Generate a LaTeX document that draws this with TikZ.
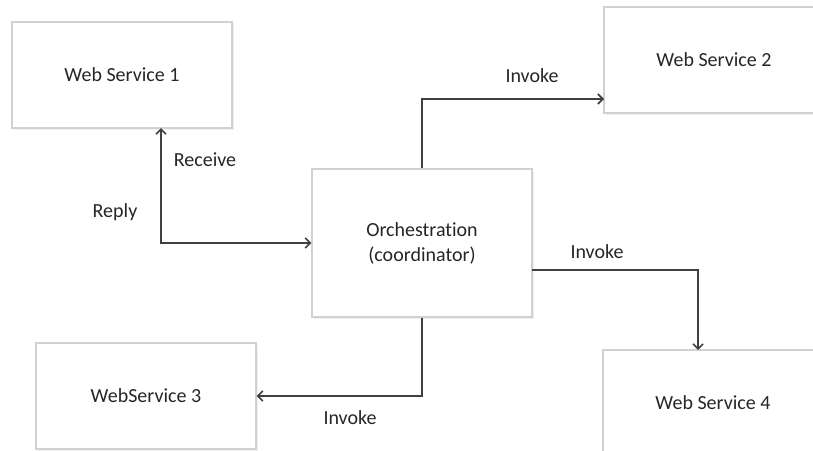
\documentclass[tikz,border=0pt]{standalone}
\usepackage{fontspec}
\setmainfont[Ligatures={NoCommon}]{Carlito}
\usetikzlibrary{arrows.meta, positioning, shadows}

\begin{document}
\begin{tikzpicture}[x=1pt, y=-1pt,
  service/.style={rectangle, draw=black!18, line width=1.4pt, fill=white,
                  minimum width=220pt, minimum height=106pt, text=black!85,
                  drop shadow={opacity=0.12, shadow xshift=1.5pt, shadow yshift=-1.5pt}},
  link/.style={line width=1.6pt, black!75, -{Straight Barb[length=5pt, width=10pt]}},
  lbl/.style={text=black!85}
]
  \useasboundingbox (0,0) rectangle (813,450);
  \fontsize{20}{25}\selectfont

  % services
  \node[service] (ws1) at (122, 75)  {Web Service 1};
  \node[service] (ws2) at (714, 60)  {Web Service 2};
  \node[service] (ws3) at (146, 396) {WebService 3};
  \node[service] (ws4) at (713, 403) {Web Service 4};

  % coordinator
  \node[service, minimum height=148pt, align=center] (orch) at (422, 243)
       {Orchestration\\(coordinator)};

  % bend points on the box sides
  \coordinate (ws1in) at (161, 128);
  \coordinate (ws2in) at (604, 99);
  \coordinate (orchout) at (532, 270);
  \coordinate (ws4in) at (698, 350);

  % messages
  \draw[link, {Straight Barb[length=5pt, width=10pt]}-{Straight Barb[length=5pt, width=10pt]}]
       (ws1in) |- (orch.west);
  \draw[link] (orch.north) |- (ws2in);
  \draw[link] (orchout) -| (ws4in);
  \draw[link] (orch.south) |- (ws3.east);

  % labels
  \node[lbl, anchor=west] (lrecv) at (167, 160) {Receive};
  \node[lbl] (lreply) at (115, 212) {Reply};
  \node[lbl] (linv2) at (532, 76)  {Invoke};
  \node[lbl] (linv4) at (597, 252) {Invoke};
  \node[lbl] (linv3) at (350, 418) {Invoke};
\end{tikzpicture}
\end{document}
